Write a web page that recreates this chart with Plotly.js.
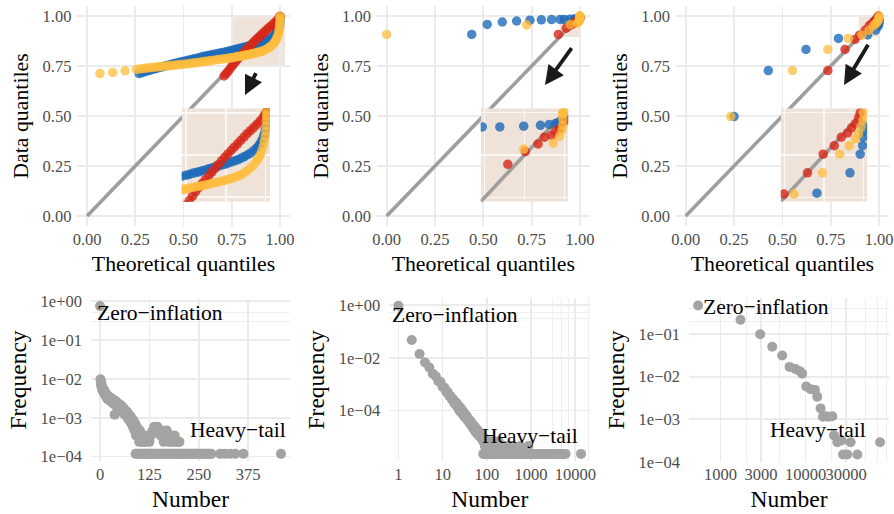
<!DOCTYPE html>
<html><head><meta charset="utf-8">
<script src="https://cdn.plot.ly/plotly-3.0.1.min.js"></script>
<style>html,body{margin:0;padding:0;background:#fff}#chart{width:894px;height:514px}</style>
</head><body><div id="chart"></div>
<script>
// ---------- data ----------
const qqLine = [0, 1];
const qqTicks = [0, 0.25, 0.5, 0.75, 1];
const qqTickText = ['0.00', '0.25', '0.50', '0.75', '1.00'];

// Panel 1 (QQ)
const p1BlueX = [0.27,0.285,0.30,0.315,0.33,0.345,0.36,0.375,0.39,0.405,0.42,0.435,0.45,0.465,0.48,0.495,0.51,0.525,0.54,0.555,0.57,0.585,0.60,0.615,0.63,0.645,0.66,0.675,0.69,0.705,0.72,0.735,0.75,0.76,0.77,0.78,0.79,0.80,0.81,0.82,0.83,0.84,0.85,0.86,0.87,0.88,0.89,0.90,0.91,0.92,0.93,0.94,0.95,0.96,0.97,0.975,0.98,0.985,0.99,0.993,0.996,0.998,0.999,1.0,1.0];
const p1BlueY = [0.712,0.717,0.722,0.726,0.730,0.734,0.738,0.742,0.746,0.750,0.754,0.758,0.762,0.765,0.769,0.772,0.775,0.779,0.782,0.786,0.789,0.793,0.797,0.800,0.803,0.806,0.809,0.812,0.815,0.818,0.821,0.825,0.828,0.830,0.833,0.835,0.837,0.840,0.842,0.845,0.847,0.850,0.852,0.855,0.857,0.860,0.863,0.866,0.869,0.873,0.877,0.882,0.887,0.894,0.901,0.906,0.912,0.920,0.929,0.938,0.950,0.962,0.974,0.986,0.997];
const p1RedX = [0.71,0.72,0.73,0.74,0.75,0.76,0.77,0.78,0.79,0.80,0.81,0.82,0.83,0.84,0.85,0.86,0.87,0.88,0.89,0.90,0.91,0.92,0.93,0.94,0.95,0.96,0.97,0.98,0.99,0.995,1.0];
const p1RedY = [0.700,0.711,0.722,0.735,0.748,0.760,0.772,0.784,0.795,0.806,0.816,0.826,0.836,0.846,0.856,0.866,0.876,0.885,0.894,0.903,0.912,0.921,0.930,0.939,0.947,0.955,0.964,0.973,0.983,0.990,0.998];
const p1YellowX = [0.067,0.133,0.197,0.255,0.275,0.29,0.305,0.32,0.335,0.35,0.365,0.38,0.395,0.41,0.425,0.44,0.455,0.47,0.485,0.50,0.515,0.53,0.545,0.56,0.575,0.59,0.605,0.62,0.635,0.65,0.665,0.68,0.695,0.71,0.725,0.74,0.75,0.76,0.77,0.78,0.79,0.80,0.81,0.82,0.83,0.84,0.85,0.86,0.87,0.88,0.89,0.90,0.91,0.92,0.93,0.94,0.95,0.96,0.97,0.975,0.98,0.985,0.99,0.993,0.996,0.998,0.999,1.0,1.0,1.0];
const p1YellowY = [0.712,0.718,0.726,0.733,0.735,0.737,0.739,0.741,0.742,0.744,0.745,0.747,0.748,0.750,0.751,0.753,0.754,0.756,0.757,0.759,0.760,0.762,0.764,0.766,0.768,0.770,0.772,0.774,0.776,0.778,0.780,0.782,0.784,0.786,0.788,0.790,0.791,0.793,0.795,0.797,0.798,0.800,0.802,0.804,0.806,0.808,0.810,0.812,0.814,0.817,0.819,0.822,0.825,0.829,0.834,0.840,0.847,0.855,0.866,0.873,0.881,0.892,0.905,0.918,0.932,0.946,0.960,0.974,0.987,0.999];

// Panel 2 (QQ)
const p2BlueX = [0.44,0.52,0.598,0.672,0.741,0.80,0.853,0.897,0.919,0.949,0.970,0.981,0.989,0.992,0.996,1.0];
const p2BlueY = [0.908,0.958,0.970,0.975,0.979,0.981,0.982,0.983,0.983,0.984,0.985,0.986,0.987,0.988,0.989,0.995];
const p2RedX = [0.888,0.929,0.951,0.967,0.975,0.984,0.989,0.994,1.0];
const p2RedY = [0.908,0.939,0.954,0.963,0.971,0.973,0.978,0.981,0.990];
const p2YellowX = [0.0,0.724,0.949,0.986,0.994,0.997,0.998,0.998,0.998,0.998,1.0];
const p2YellowY = [0.908,0.955,0.957,0.964,0.972,0.979,0.985,0.992,0.998,1.0,1.0];

// Panel 3 (QQ)
const p3BlueX = [0.25,0.427,0.622,0.79,0.941,0.983,0.996,0.999,1.0,1.0,1.0];
const p3BlueY = [0.497,0.727,0.833,0.888,0.905,0.929,0.951,0.961,0.971,0.978,0.985];
const p3RedX = [0.735,0.824,0.876,0.899,0.929,0.949,0.963,0.972,0.980,0.985,0.990,0.994,0.996];
const p3RedY = [0.727,0.833,0.883,0.904,0.929,0.951,0.961,0.971,0.976,0.982,0.987,0.994,0.9995];
const p3YellowX = [0.233,0.552,0.735,0.841,0.912,0.948,0.970,0.982,0.990,0.994,0.997,0.9995,1.0];
const p3YellowY = [0.497,0.727,0.833,0.888,0.904,0.929,0.951,0.961,0.969,0.975,0.983,0.991,0.9995];

// Panel 4 (frequency vs number, linear x)
const p4Number = [0,1,2,3,4,5,6,7,8,9,10,11,12,13,14,15,16,17,18,20,22,24,26,28,30,32,34,36,37,39,41,43,45,47,49,51,53,55,57,59,61,63,65,67,69,71,73,75,77,79,81,83,85,87,89,
  91,93,95,97,99,101,103,105,107,109,111,113,117,121,125,129,133,137,141,145,149,153,157,161,165,169,173,177,181,185,189,193,197,201,
  90,94,98,102,106,110,114,118,122,126,130,134,138,142,146,150,154,158,162,166,170,174,178,182,186,190,194,198,202,206,210,214,218,222,226,230,234,238,242,246,250,254,258,262,266,270,274,278,282,304,316,329,342,363,458];
const p4Freq = [0.74,0.0098,0.0072,0.0081,0.0060,0.0066,0.0052,0.0058,0.0047,0.0053,0.0043,0.0049,0.0040,0.0045,0.0037,0.0042,0.0034,0.0039,0.0031,0.0036,0.0029,0.0034,0.0027,0.0032,0.0025,0.0030,0.0023,0.0028,0.0012,0.0021,0.0026,0.0019,0.0024,0.0018,0.0022,0.0016,0.0021,0.0015,0.0019,0.0013,0.0017,0.0012,0.0015,0.0011,0.0014,0.00095,0.0012,0.00083,0.0011,0.00071,0.00095,0.00059,0.00083,0.00047,0.00071,
  0.00035,0.00059,0.00047,0.00035,0.00024,0.00047,0.00035,0.00024,0.00035,0.00024,0.00035,0.00024,0.00024,0.00035,0.00024,0.00035,0.00047,0.00059,0.00047,0.00059,0.00047,0.00035,0.00047,0.00024,0.00035,0.00047,0.00024,0.00035,0.00024,0.00024,0.00035,0.00024,0.00024,0.00024,
  0.000118,0.000118,0.000118,0.000118,0.000118,0.000118,0.000118,0.000118,0.000118,0.000118,0.000118,0.000118,0.000118,0.000118,0.000118,0.000118,0.000118,0.000118,0.000118,0.000118,0.000118,0.000118,0.000118,0.000118,0.000118,0.000118,0.000118,0.000118,0.000118,0.000118,0.000118,0.000118,0.000118,0.000118,0.000118,0.000118,0.000118,0.000118,0.000118,0.000118,0.000118,0.000118,0.000118,0.000118,0.000118,0.000118,0.000118,0.000118,0.000118,0.000118,0.000118,0.000118,0.000118,0.000118,0.000118];

// Panel 5 (frequency vs number, log x)
const p5Number = [1,2,3,4,5,6,7,8,9,10,11,12,13,14,15,16,17,18,19,20,21,22,23,24,25,26,27,28,29,30,31,32,34,35,36,38,40,42,44,46,48,50,52,55,58,61,64,67,70,74,78,82,86,90,95,100,
  83,88,93,98,105,115,126,138,151,166,182,200,219,240,263,289,317,347,381,418,458,502,551,604,662,726,796,873,957,1050,1150,1260,1380,1520,1660,1820,2000,2190,2400,2630,2890,3170,3470,3810,4180,4580,5020,5510,6040,13500,
  110,131,158,210,275,392,560,870,120,145,185];
const p5Freq = [0.93,0.047,0.014,0.0066,0.0043,0.0025,0.0020,0.0013,0.0012,0.00078,0.00074,0.00052,0.00051,0.00037,0.00036,0.00027,0.00028,0.00020,0.00022,0.00016,0.00019,0.00013,0.00015,0.00010,0.00013,0.000088,0.00011,0.000075,0.000090,0.000063,0.000080,0.000058,0.000066,0.000047,0.000057,0.000040,0.000046,0.000031,0.000037,0.000025,0.000030,0.000020,0.000026,0.000016,0.000021,0.000013,0.000017,0.000011,0.000014,0.0000092,0.000011,0.0000069,0.0000092,0.0000046,0.0000069,0.0000046,
  0.0000023,0.0000023,0.0000023,0.0000023,0.0000023,0.0000023,0.0000023,0.0000023,0.0000023,0.0000023,0.0000023,0.0000023,0.0000023,0.0000023,0.0000023,0.0000023,0.0000023,0.0000023,0.0000023,0.0000023,0.0000023,0.0000023,0.0000023,0.0000023,0.0000023,0.0000023,0.0000023,0.0000023,0.0000023,0.0000023,0.0000023,0.0000023,0.0000023,0.0000023,0.0000023,0.0000023,0.0000023,0.0000023,0.0000023,0.0000023,0.0000023,0.0000023,0.0000023,0.0000023,0.0000023,0.0000023,0.0000023,0.0000023,0.0000023,0.0000023,
  0.0000046,0.0000046,0.0000046,0.0000046,0.0000046,0.0000046,0.0000046,0.0000046,0.0000069,0.0000069,0.0000069];

// Panel 6 (frequency vs number, log x)
const p6Number = [546,1718,2930,4055,5310,6480,7620,8570,9120,10180,11450,12880,13710,15000,16000,17200,18490,20600,21550,23590,26540,33810,27540,30900,40550,75000];
const p6Freq = [0.473,0.219,0.1,0.0508,0.0316,0.017,0.0152,0.0134,0.0118,0.00589,0.00508,0.0049,0.0034,0.0018,0.00114,0.00118,0.00114,0.00118,0.000417,0.000288,0.000316,0.000288,0.000148,0.000148,0.000148,0.000288];

// ---------- styling ----------
const FONT = 'Liberation Serif, Times New Roman, serif';
const GRID = '#EBEBEB';
const TICKFONT = {family: FONT, size: 16.5, color: '#4D4D4D'};
const TICKFONT2 = {family: FONT, size: 16.5, color: '#4D4D4D'};
const TITLEFONT = {family: FONT, size: 21.8, color: '#000'};
const TITLEFONT2 = {family: FONT, size: 23.5, color: '#000'};
const BLUE = 'rgba(29,106,185,0.8)';
const RED = 'rgba(214,40,25,0.8)';
const YELLOW = 'rgba(254,188,60,0.75)';
const LINEGRAY = '#9E9E9E';
const PTGRAY = '#A3A3A3';
const SHADE = '#F0E3D9';

function pts(x, y, xa, ya, color, size) {
  return {type: 'scatter', mode: 'markers', x: x, y: y, xaxis: xa, yaxis: ya,
    marker: {color: color, size: size, line: {width: 0}}, hoverinfo: 'skip'};
}
function idline(xa, ya) {
  return {type: 'scatter', mode: 'lines', x: qqLine, y: qqLine, xaxis: xa, yaxis: ya,
    line: {color: LINEGRAY, width: 3.6}, hoverinfo: 'skip'};
}
function qq(xa, ya, bx, by, rx, ry, yx, yy, size) {
  return [idline(xa, ya), pts(bx, by, xa, ya, BLUE, size), pts(rx, ry, xa, ya, RED, size), pts(yx, yy, xa, ya, YELLOW, size)];
}

let traces = [];
traces = traces.concat(qq('x', 'y', p1BlueX, p1BlueY, p1RedX, p1RedY, p1YellowX, p1YellowY, 9.5));
traces = traces.concat(qq('x2', 'y2', p2BlueX, p2BlueY, p2RedX, p2RedY, p2YellowX, p2YellowY, 9.5));
traces = traces.concat(qq('x3', 'y3', p3BlueX, p3BlueY, p3RedX, p3RedY, p3YellowX, p3YellowY, 9.5));
traces.push(pts(p4Number, p4Freq, 'x4', 'y4', PTGRAY, 10));
traces.push(pts(p5Number, p5Freq, 'x5', 'y5', PTGRAY, 10));
traces.push(pts(p6Number, p6Freq, 'x6', 'y6', PTGRAY, 10));
// insets (zoomed views of the same series)
traces = traces.concat(qq('x7', 'y7', p1BlueX, p1BlueY, p1RedX, p1RedY, p1YellowX, p1YellowY, 9.5));
traces = traces.concat(qq('x8', 'y8', p2BlueX, p2BlueY, p2RedX, p2RedY, p2YellowX, p2YellowY, 9.5));
traces = traces.concat(qq('x9', 'y9', p3BlueX, p3BlueY, p3RedX, p3RedY, p3YellowX, p3YellowY, 9.5));

function ax(o) {
  return Object.assign({showgrid: true, gridcolor: GRID, gridwidth: 1.7, zeroline: false, showline: false,
    ticks: '', tickangle: 0, tickfont: TICKFONT, automargin: false, fixedrange: true, tickmode: 'array'}, o);
}
function qqX(domain, anchor) {
  return ax({domain: domain, anchor: anchor, range: [-0.05, 1.05], tickvals: qqTicks, ticktext: qqTickText,
    ticklabelstandoff: 1, title: {text: 'Theoretical quantiles', font: TITLEFONT, standoff: 8}});
}
function qqY(domain, anchor) {
  return ax({domain: domain, anchor: anchor, range: [-0.05, 1.05], tickvals: qqTicks, ticktext: qqTickText,
    ticklabelstandoff: 5, title: {text: 'Data quantiles', font: TITLEFONT, standoff: 7}});
}
function inset(domain, anchor, range, tv) {
  return {domain: domain, anchor: anchor, range: range, tickmode: 'array', tickvals: tv, showticklabels: false,
    showgrid: true, gridcolor: '#FBF7F4', gridwidth: 1.6, zeroline: false, showline: false, ticks: '', fixedrange: true};
}
const topY = [0.5603, 0.9883];
const numTitle = {text: 'Number', font: TITLEFONT2, standoff: 7};
const freqTitle = {text: 'Frequency', font: TITLEFONT2, standoff: 7};

const layout = {
  width: 894, height: 514, margin: {l: 0, r: 0, t: 0, b: 0},
  paper_bgcolor: '#ffffff', plot_bgcolor: 'rgba(0,0,0,0)', showlegend: false,
  font: {family: FONT, color: '#000'},
  xaxis: qqX([0.0866, 0.3240], 'y'), yaxis: qqY(topY, 'x'),
  xaxis2: qqX([0.4217, 0.6596], 'y2'), yaxis2: qqY(topY, 'x2'),
  xaxis3: qqX([0.7562, 0.9941], 'y3'), yaxis3: qqY(topY, 'x3'),
  xaxis4: ax({domain: [0.1018, 0.3244], anchor: 'y4', range: [-22.9, 480.9], tickvals: [0, 125, 250, 375], ticktext: ['0', '125', '250', '375'], tickfont: TICKFONT2, ticklabelstandoff: 1, title: numTitle}),
  yaxis4: ax({domain: [0.1025, 0.4189], anchor: 'x4', type: 'log', range: [-4.12, 0.06], tickvals: [1e-4, 1e-3, 1e-2, 1e-1, 1], ticktext: ['1e\u221204', '1e\u221203', '1e\u221202', '1e\u221201', '1e+00'], tickfont: TICKFONT2, ticklabelstandoff: 8, title: freqTitle,
    minor: {tickvals: [0.3, 0.5], showgrid: true, gridcolor: GRID, gridwidth: 0.8}}),
  xaxis5: ax({domain: [0.4353, 0.6603], anchor: 'y5', type: 'log', range: [-0.21, 4.34], tickvals: [1, 10, 100, 1000, 10000], ticktext: ['1', '10', '100', '1000', '10000'], tickfont: TICKFONT2, ticklabelstandoff: 1, title: numTitle,
    minor: {tickvals: [3000, 5000, 7000, 20000], showgrid: true, gridcolor: GRID, gridwidth: 0.8}}),
  yaxis5: ax({domain: [0.1025, 0.4195], anchor: 'x5', type: 'log', range: [-5.92, 0.25], tickvals: [1e-4, 1e-2, 1], ticktext: ['1e\u221204', '1e\u221202', '1e+00'], tickfont: TICKFONT2, ticklabelstandoff: 8, title: freqTitle,
    minor: {tickvals: [0.3, 0.5], showgrid: true, gridcolor: GRID, gridwidth: 0.8}}),
  xaxis6: ax({domain: [0.7707, 0.9944], anchor: 'y6', type: 'log', range: [2.63, 4.98], tickvals: [1000, 3000, 10000, 30000], ticktext: ['1000', '3000', '10000', '30000'], tickfont: TICKFONT2, ticklabelstandoff: 1, title: numTitle,
    minor: {tickvals: [2000, 5000, 20000, 50000, 70000, 90000], showgrid: true, gridcolor: GRID, gridwidth: 0.8}}),
  yaxis6: ax({domain: [0.1012, 0.4202], anchor: 'x6', type: 'log', range: [-4.005, -0.15], tickvals: [1e-4, 1e-3, 1e-2, 1e-1], ticktext: ['1e\u221204', '1e\u221203', '1e\u221202', '1e\u221201'], tickfont: TICKFONT2, ticklabelstandoff: 8, title: freqTitle,
    minor: {tickvals: [0.2, 0.4], showgrid: true, gridcolor: GRID, gridwidth: 0.8}}),
  xaxis7: inset([0.2032, 0.3020], 'y7', [0.736, 1.011], [0.7498, 0.8735, 0.9972]),
  yaxis7: inset([0.6076, 0.7893], 'x7', [0.757, 1.007], [0.7695, 0.882, 0.9945]),
  xaxis8: inset([0.5377, 0.6357], 'y8', [0.895, 1.005], [0.9, 0.95, 1.0]),
  yaxis8: inset([0.6076, 0.7893], 'x8', [0.895, 1.005], [0.9, 0.95, 1.0]),
  xaxis9: inset([0.8733, 0.9701], 'y9', [0.895, 1.005], [0.9, 0.95, 1.0]),
  yaxis9: inset([0.6076, 0.7893], 'x9', [0.895, 1.005], [0.9, 0.95, 1.0]),
  shapes: [
    {type: 'rect', xref: 'x', yref: 'y', x0: 0.755, x1: 1.025, y0: 0.748, y1: 1.005, fillcolor: SHADE, line: {width: 0}, layer: 'below'},
    {type: 'rect', xref: 'x2', yref: 'y2', x0: 0.895, x1: 1.005, y0: 0.895, y1: 1.005, fillcolor: SHADE, line: {width: 0}, layer: 'below'},
    {type: 'rect', xref: 'x3', yref: 'y3', x0: 0.895, x1: 1.005, y0: 0.895, y1: 1.005, fillcolor: SHADE, line: {width: 0}, layer: 'below'},
    {type: 'rect', xref: 'x7', yref: 'y7', x0: 0.736, x1: 1.011, y0: 0.757, y1: 1.007, fillcolor: '#EFE2D8', line: {width: 0}, layer: 'below'},
    {type: 'rect', xref: 'x8', yref: 'y8', x0: 0.895, x1: 1.005, y0: 0.895, y1: 1.005, fillcolor: '#EFE2D8', line: {width: 0}, layer: 'below'},
    {type: 'rect', xref: 'x9', yref: 'y9', x0: 0.895, x1: 1.005, y0: 0.895, y1: 1.005, fillcolor: '#EFE2D8', line: {width: 0}, layer: 'below'}
  ],
  annotations: [
    {xref: 'paper', yref: 'paper', x: 245 / 894, y: (514 - 95) / 514, axref: 'pixel', ayref: 'pixel', ax: 11.7, ay: -23.3, text: '', showarrow: true, arrowhead: 2, arrowsize: 1, arrowwidth: 3.8, arrowcolor: '#1A1A1A', standoff: 0},
    {xref: 'paper', yref: 'paper', x: 545 / 894, y: (514 - 85) / 514, axref: 'pixel', ayref: 'pixel', ax: 27.7, ay: -38.3, text: '', showarrow: true, arrowhead: 2, arrowsize: 1, arrowwidth: 3.8, arrowcolor: '#1A1A1A', standoff: 0},
    {xref: 'paper', yref: 'paper', x: 844 / 894, y: (514 - 85) / 514, axref: 'pixel', ayref: 'pixel', ax: 25, ay: -41.7, text: '', showarrow: true, arrowhead: 2, arrowsize: 1, arrowwidth: 3.8, arrowcolor: '#1A1A1A', standoff: 0},
    {xref: 'paper', yref: 'paper', x: 0.1786, y: 0.3905, text: 'Zero\u2212inflation', showarrow: false, font: {family: FONT, size: 21.5, color: '#000'}, xanchor: 'center', yanchor: 'middle'},
    {xref: 'paper', yref: 'paper', x: 0.5095, y: 0.3872, text: 'Zero\u2212inflation', showarrow: false, font: {family: FONT, size: 21.5, color: '#000'}, xanchor: 'center', yanchor: 'middle'},
    {xref: 'paper', yref: 'paper', x: 0.8565, y: 0.4021, text: 'Zero\u2212inflation', showarrow: false, font: {family: FONT, size: 21.5, color: '#000'}, xanchor: 'center', yanchor: 'middle'},
    {xref: 'paper', yref: 'paper', x: 0.2666, y: 0.1634, text: 'Heavy\u2212tail', showarrow: false, font: {family: FONT, size: 21.5, color: '#000'}, xanchor: 'center', yanchor: 'middle'},
    {xref: 'paper', yref: 'paper', x: 0.5928, y: 0.1518, text: 'Heavy\u2212tail', showarrow: false, font: {family: FONT, size: 21.5, color: '#000'}, xanchor: 'center', yanchor: 'middle'},
    {xref: 'paper', yref: 'paper', x: 0.9153, y: 0.1634, text: 'Heavy\u2212tail', showarrow: false, font: {family: FONT, size: 21.5, color: '#000'}, xanchor: 'center', yanchor: 'middle'}
  ]
};

Plotly.newPlot('chart', traces, layout, {staticPlot: true, displayModeBar: false});
</script></body></html>
